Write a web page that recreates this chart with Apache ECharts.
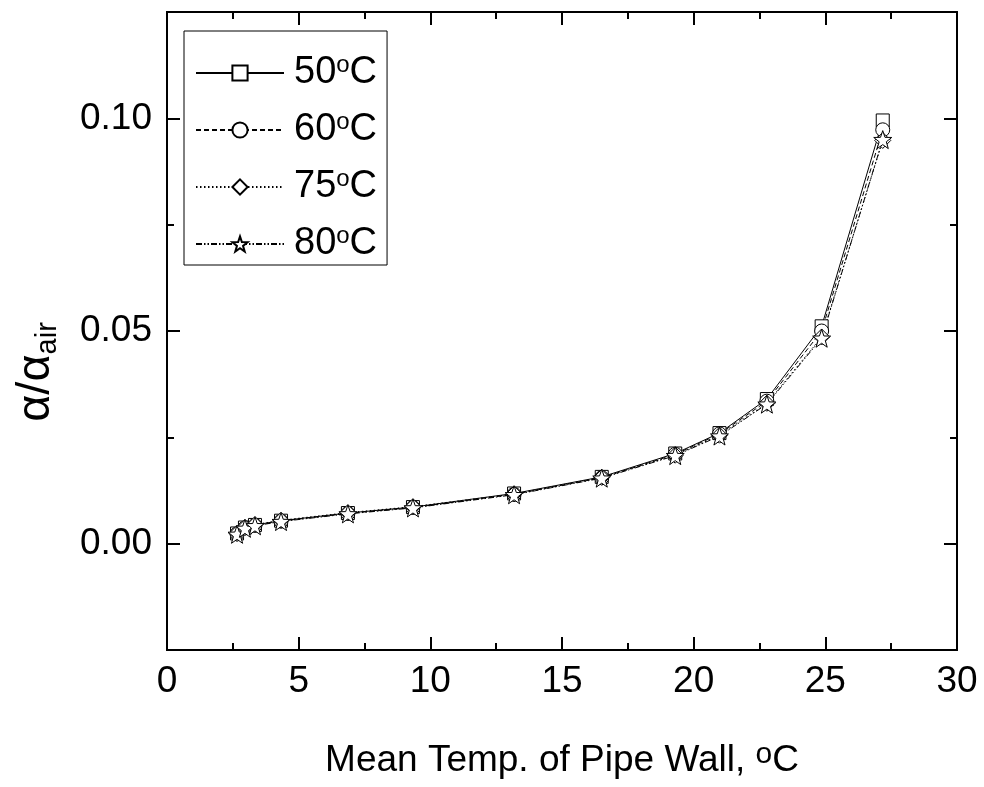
<!DOCTYPE html>
<html>
<head>
<meta charset="utf-8">
<title>α/α_air vs mean pipe wall temperature</title>
<script src="https://cdn.jsdelivr.net/npm/echarts@6/dist/echarts.min.js"></script>
<style>
  html, body { margin: 0; padding: 0; background: #fff; }
  #chart { width: 984px; height: 787px; }
</style>
</head>
<body>
<div id="chart"></div>
<script>
// Mean temperature of the pipe wall (°C) at each measurement
const wallTemp = [2.66, 2.96, 3.34, 4.33, 6.87, 9.34, 13.18, 16.51, 19.30, 20.98, 22.78, 24.86, 27.18];

// α/α_air for each fluid temperature
const ratio50 = [0.0024, 0.0038, 0.0044, 0.0054, 0.0072, 0.0086, 0.0118, 0.0157, 0.0212, 0.0260, 0.0340, 0.0511, 0.0995];
const ratio60 = [0.0023, 0.0037, 0.0043, 0.0053, 0.0071, 0.0085, 0.0116, 0.0155, 0.0210, 0.0258, 0.0335, 0.0500, 0.0973];
const ratio75 = [0.0024, 0.0038, 0.0045, 0.0055, 0.0073, 0.0087, 0.0117, 0.0156, 0.0208, 0.0255, 0.0330, 0.0486, 0.0948];
const ratio80 = [0.0022, 0.0036, 0.0042, 0.0052, 0.0070, 0.0084, 0.0115, 0.0154, 0.0207, 0.0253, 0.0328, 0.0483, 0.0950];

const seriesNames = ['50', '60', '75', '80'];

// Axis ticks
const xTicks = [0, 5, 10, 15, 20, 25, 30];
const yMajorTicks = [0, 0.05, 0.10];
const yMinorTicks = [-0.025, 0.025, 0.075, 0.125];

const FONT = "'Liberation Sans', Arial, Helvetica, sans-serif";
const STAR = 'path://M0,-10L2.35,-3.24L9.51,-3.09L3.8,1.24L5.88,8.09L0,4.1L-5.88,8.09L-3.8,1.24L-9.51,-3.09L-2.35,-3.24Z';

function pairs(xs, ys) {
  return xs.map((x, i) => [x, ys[i]]);
}

function lineSeries(name, values, symbol, size, dash) {
  return {
    name: name,
    type: 'line',
    xAxisIndex: 0,
    yAxisIndex: 0,
    data: pairs(wallTemp, values),
    symbol: symbol,
    symbolSize: size,
    showSymbol: true,
    showAllSymbol: true,
    lineStyle: { color: '#000', width: 1, type: dash },
    itemStyle: { color: '#fff', borderColor: '#000', borderWidth: 1 },
    emphasis: { disabled: true },
    animation: false
  };
}

const yRange = { min: -0.025, max: 0.125 };

function yAxisDef(position, withLabels, ticks, len) {
  return {
    type: 'value',
    position: position,
    min: yRange.min,
    max: yRange.max,
    axisLine: { show: true, onZero: false, lineStyle: { color: '#000', width: 2 } },
    axisTick: { show: true, inside: true, length: len, customValues: ticks, lineStyle: { color: '#000', width: 2 } },
    axisLabel: withLabels ? {
      show: true, customValues: yMajorTicks, margin: 15,
      color: '#000', fontFamily: FONT, fontSize: 37,
      formatter: v => v.toFixed(2)
    } : { show: false },
    splitLine: { show: false }
  };
}

function xAxisDef(position, withLabels) {
  return {
    type: 'value',
    position: position,
    min: xTicks[0],
    max: xTicks[xTicks.length - 1],
    interval: 5,
    axisLine: { show: true, onZero: false, lineStyle: { color: '#000', width: 2 } },
    axisTick: { show: true, inside: true, length: 13, lineStyle: { color: '#000', width: 2 } },
    minorTick: { show: true, splitNumber: 2, length: 7, lineStyle: { color: '#000', width: 2 } },
    axisLabel: withLabels ? {
      show: true, margin: 13, color: '#000', fontFamily: FONT, fontSize: 37
    } : { show: false },
    splitLine: { show: false },
    minorSplitLine: { show: false },
    name: withLabels ? 'Mean Temp. of Pipe Wall, {s|o}C' : '',
    nameLocation: 'middle',
    nameGap: 90,
    nameTextStyle: {
      color: '#000', fontFamily: FONT, fontSize: 37, lineHeight: 42,
      rich: {
        s: { fontFamily: FONT, fontSize: 30, color: '#000', verticalAlign: 'top', lineHeight: 42, padding: [0, 0, 16, 0] }
      }
    }
  };
}

const chart = echarts.init(document.getElementById('chart'), null, { renderer: 'canvas' });

chart.setOption({
  backgroundColor: '#fff',
  animation: false,
  grid: { left: 167, right: 27, top: 12, bottom: 137, containLabel: false, outerBoundsMode: 'none' },
  xAxis: [xAxisDef('bottom', true), xAxisDef('top', false)],
  yAxis: [
    yAxisDef('left', true, yMajorTicks, 13),
    yAxisDef('left', false, yMinorTicks, 7),
    yAxisDef('right', false, yMajorTicks, 13),
    yAxisDef('right', false, yMinorTicks, 7)
  ],
  legend: {
    show: true,
    orient: 'vertical',
    left: 184,
    top: 31,
    padding: [22, 10, 2, 11],
    itemGap: 18,
    itemWidth: 88,
    itemHeight: 19,
    backgroundColor: '#fff',
    borderColor: '#000',
    borderWidth: 1,
    borderRadius: 0,
    selectedMode: false,
    data: seriesNames,
    formatter: name => '{n|' + name + '}{s|o}{n|C}',
    textStyle: {
      color: '#000',
      fontFamily: FONT,
      fontSize: 38,
      padding: [0, 0, 0, 5],
      rich: {
        n: { fontFamily: FONT, fontSize: 38, color: '#000', lineHeight: 40 },
        s: { fontFamily: FONT, fontSize: 24, color: '#000', lineHeight: 40, verticalAlign: 'top', padding: [0, 0, 10, 0] }
      }
    }
  },
  graphic: [{
    type: 'text',
    x: 36,
    y: 372,
    rotation: Math.PI / 2,
    style: {
      text: '{a|α/α}{b|air}',
      align: 'center',
      verticalAlign: 'middle',
      rich: {
        a: { fontFamily: FONT, fontSize: 47, fill: '#000', color: '#000', lineHeight: 52 },
        b: { fontFamily: FONT, fontSize: 29, fill: '#000', color: '#000', lineHeight: 52, verticalAlign: 'bottom', padding: [14, 0, 0, 0] }
      }
    }
  }],
  series: [
    lineSeries('50', ratio50, 'rect', 13, 'solid'),
    lineSeries('60', ratio60, 'circle', 14, [5, 3]),
    lineSeries('75', ratio75, 'diamond', 16, [1.5, 2.5]),
    lineSeries('80', ratio80, STAR, 18, [6, 2, 1.5, 2, 1.5, 2])
  ]
});
</script>
</body>
</html>
